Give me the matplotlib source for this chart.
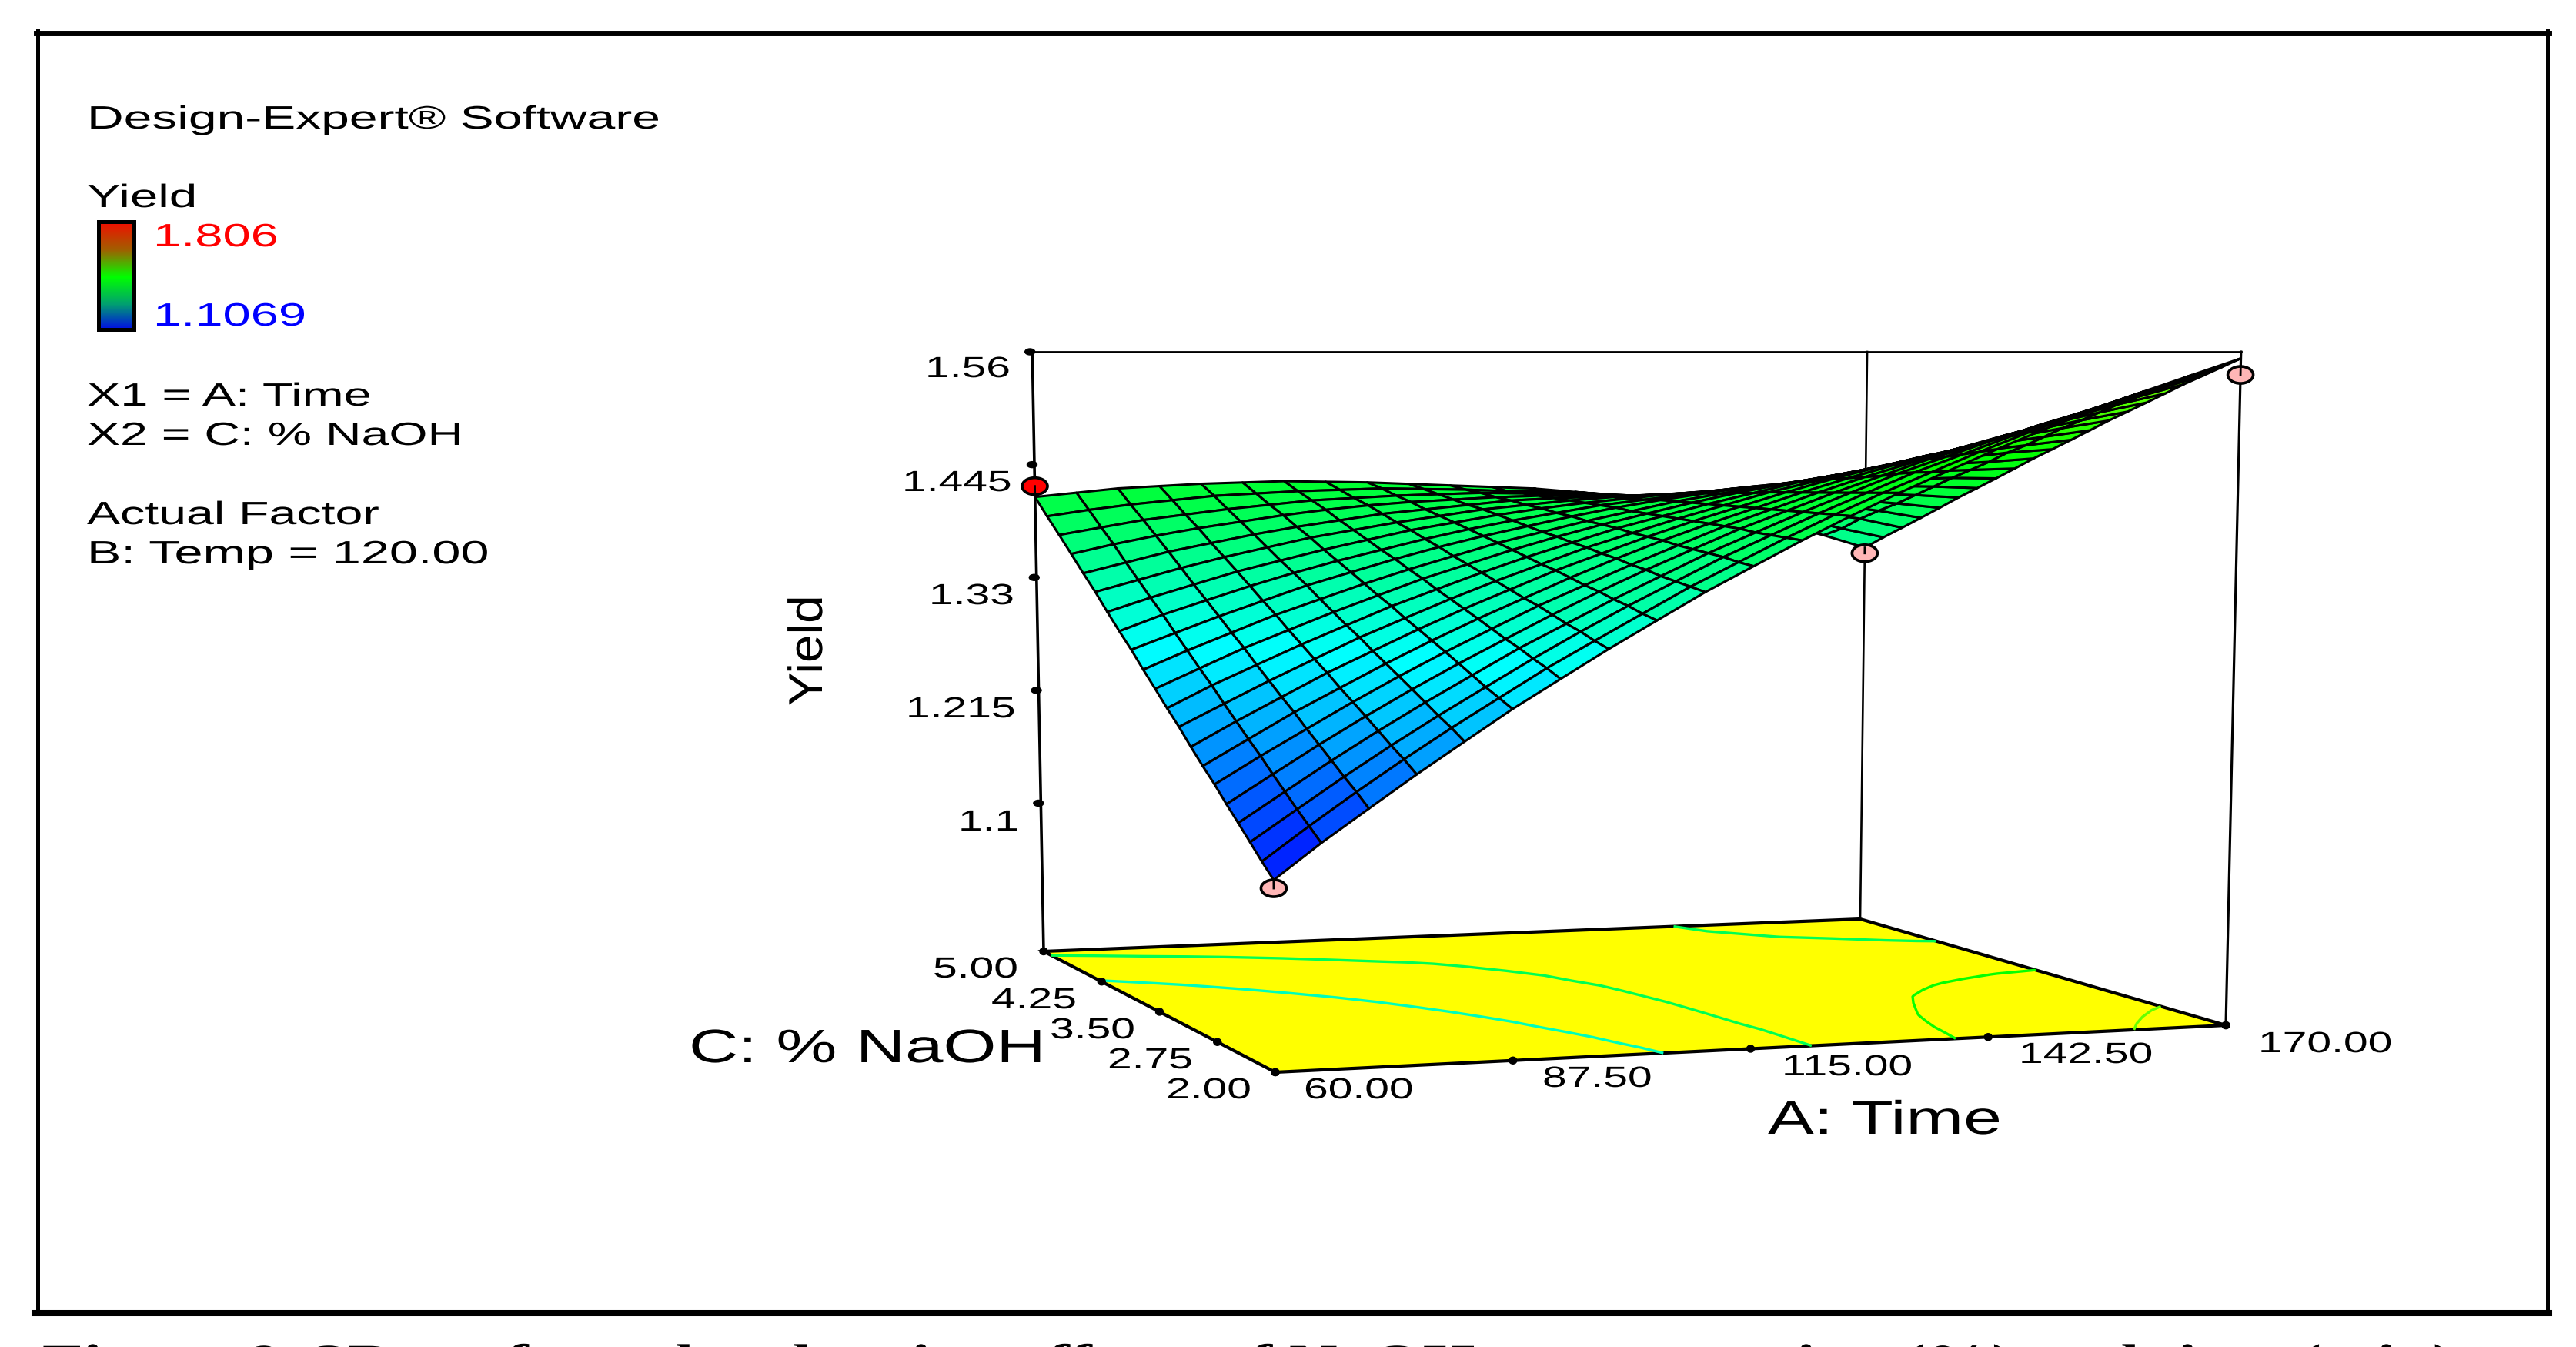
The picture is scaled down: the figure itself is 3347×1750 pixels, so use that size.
import numpy as np
import matplotlib
matplotlib.use("Agg")
import matplotlib.pyplot as plt
import matplotlib.patheffects as pe
from matplotlib.collections import PolyCollection
from matplotlib.colors import LinearSegmentedColormap, Normalize
from matplotlib.patches import Ellipse, Polygon, Rectangle
from matplotlib.transforms import Affine2D

# Axis ticks and labels
time_ticks = [60.00, 87.50, 115.00, 142.50, 170.00]
time_labels = ["60.00", "87.50", "115.00", "142.50", "170.00"]
naoh_ticks = [5.00, 4.25, 3.50, 2.75, 2.00]
naoh_labels = ["5.00", "4.25", "3.50", "2.75", "2.00"]
yield_ticks = [1.56, 1.445, 1.33, 1.215, 1.1]
yield_labels = ["1.56", "1.445", "1.33", "1.215", "1.1"]

# Surface, rows go from 2% to 5% NaOH, columns from 60 to 170 min
time_grid = np.linspace(60, 170, 21)
naoh_grid = np.linspace(2, 5, 21)
yield_surface = np.array([
    [1.112, 1.142, 1.170, 1.198, 1.225, 1.252, 1.277, 1.302, 1.326, 1.350, 1.372, 1.394, 1.415, 1.435, 1.454, 1.473, 1.491, 1.508, 1.524, 1.539, 1.554],
    [1.124, 1.153, 1.181, 1.208, 1.234, 1.259, 1.284, 1.307, 1.330, 1.353, 1.374, 1.395, 1.415, 1.434, 1.452, 1.470, 1.487, 1.503, 1.518, 1.532, 1.546],
    [1.137, 1.164, 1.191, 1.217, 1.242, 1.266, 1.290, 1.313, 1.335, 1.356, 1.377, 1.396, 1.415, 1.433, 1.451, 1.467, 1.483, 1.498, 1.512, 1.525, 1.538],
    [1.150, 1.176, 1.202, 1.227, 1.251, 1.274, 1.297, 1.318, 1.339, 1.359, 1.379, 1.397, 1.415, 1.432, 1.449, 1.464, 1.479, 1.493, 1.506, 1.518, 1.530],
    [1.163, 1.188, 1.213, 1.237, 1.260, 1.282, 1.303, 1.324, 1.344, 1.363, 1.381, 1.399, 1.415, 1.431, 1.446, 1.461, 1.474, 1.487, 1.499, 1.511, 1.521],
    [1.177, 1.201, 1.224, 1.247, 1.269, 1.290, 1.310, 1.330, 1.348, 1.366, 1.383, 1.400, 1.415, 1.430, 1.444, 1.457, 1.470, 1.482, 1.493, 1.503, 1.512],
    [1.190, 1.213, 1.236, 1.257, 1.278, 1.298, 1.317, 1.335, 1.353, 1.370, 1.386, 1.401, 1.415, 1.429, 1.442, 1.454, 1.465, 1.476, 1.486, 1.495, 1.503],
    [1.204, 1.226, 1.247, 1.268, 1.287, 1.306, 1.324, 1.341, 1.358, 1.373, 1.388, 1.402, 1.415, 1.428, 1.440, 1.451, 1.461, 1.470, 1.479, 1.487, 1.494],
    [1.219, 1.239, 1.259, 1.278, 1.297, 1.314, 1.331, 1.347, 1.362, 1.377, 1.390, 1.403, 1.415, 1.427, 1.437, 1.447, 1.456, 1.464, 1.472, 1.478, 1.484],
    [1.233, 1.253, 1.271, 1.289, 1.306, 1.323, 1.338, 1.353, 1.367, 1.380, 1.393, 1.404, 1.415, 1.425, 1.435, 1.443, 1.451, 1.458, 1.464, 1.469, 1.474],
    [1.248, 1.266, 1.284, 1.300, 1.316, 1.331, 1.346, 1.359, 1.372, 1.384, 1.395, 1.405, 1.415, 1.424, 1.432, 1.439, 1.446, 1.452, 1.456, 1.461, 1.464],
    [1.263, 1.280, 1.296, 1.312, 1.326, 1.340, 1.353, 1.365, 1.377, 1.387, 1.397, 1.406, 1.415, 1.422, 1.429, 1.435, 1.440, 1.445, 1.449, 1.451, 1.454],
    [1.279, 1.294, 1.309, 1.323, 1.337, 1.349, 1.361, 1.372, 1.382, 1.391, 1.400, 1.408, 1.415, 1.421, 1.427, 1.431, 1.435, 1.438, 1.441, 1.442, 1.443],
    [1.294, 1.309, 1.322, 1.335, 1.347, 1.358, 1.368, 1.378, 1.387, 1.395, 1.402, 1.409, 1.414, 1.419, 1.424, 1.427, 1.430, 1.431, 1.432, 1.433, 1.432],
    [1.310, 1.323, 1.335, 1.347, 1.357, 1.367, 1.376, 1.385, 1.392, 1.399, 1.405, 1.410, 1.414, 1.418, 1.421, 1.423, 1.424, 1.424, 1.424, 1.423, 1.421],
    [1.327, 1.338, 1.349, 1.359, 1.368, 1.377, 1.384, 1.391, 1.397, 1.403, 1.407, 1.411, 1.414, 1.416, 1.418, 1.418, 1.418, 1.417, 1.415, 1.413, 1.410],
    [1.343, 1.353, 1.363, 1.371, 1.379, 1.386, 1.392, 1.398, 1.402, 1.406, 1.410, 1.412, 1.413, 1.414, 1.414, 1.413, 1.412, 1.410, 1.407, 1.403, 1.398],
    [1.360, 1.369, 1.377, 1.384, 1.390, 1.396, 1.401, 1.405, 1.408, 1.410, 1.412, 1.413, 1.413, 1.412, 1.411, 1.409, 1.406, 1.403, 1.400, 1.394, 1.386],
    [1.377, 1.384, 1.391, 1.396, 1.401, 1.405, 1.409, 1.411, 1.413, 1.414, 1.415, 1.414, 1.413, 1.411, 1.409, 1.407, 1.404, 1.398, 1.391, 1.384, 1.374],
    [1.394, 1.400, 1.405, 1.409, 1.413, 1.415, 1.417, 1.418, 1.419, 1.418, 1.417, 1.415, 1.414, 1.412, 1.409, 1.405, 1.399, 1.392, 1.383, 1.372, 1.362],
    [1.412, 1.416, 1.420, 1.422, 1.424, 1.425, 1.426, 1.425, 1.424, 1.422, 1.420, 1.418, 1.416, 1.412, 1.408, 1.403, 1.396, 1.386, 1.375, 1.363, 1.349],
])

# Design points (time, NaOH, yield) and floor contour levels
point_time = [60, 60, 170, 170]
point_naoh = [5, 2, 5, 2]
point_yield = [1.423, 1.105, 1.343, 1.539]
point_colors = ["#ff0000", "#ffb6b6", "#ffb6b6", "#ffb6b6"]
contour_levels = [1.33, 1.40, 1.46, 1.525]

YIELD_MIN = 1.1069
YIELD_MAX = 1.806
FLOOR_Z = 0.949
TOP_Z = 1.56

# Where the box corners sit in the picture (pixels): 60/2, 170/2, 170/5, 60/5
floor_corners = np.array([(1657, 1393), (2892, 1332), (2417, 1194), (1356, 1236)], float)
TOP_Y = 457
VANISH_X = 2014
LEAN = 0.0225

surface_cmap = LinearSegmentedColormap.from_list(
    "de", ["#0000ff", "#00ffff", "#00ff00", "#ffff00", "#ff0000"])
legend_cmap = LinearSegmentedColormap.from_list(
    "de_legend", ["#0000f0", "#00a070", "#00ff00", "#a06000", "#f01000"])
norm = Normalize(YIELD_MIN, YIELD_MAX)


# Floor ticks are evenly spaced along each edge, so map the corners bilinearly
def to_floor(t, c):
    u = (np.asarray(t, float) - 60) / 110
    v = (np.asarray(c, float) - 2) / 3
    w = [(1 - u) * (1 - v), u * (1 - v), u * v, (1 - u) * v]
    x = sum(w[k] * floor_corners[k, 0] for k in range(4))
    y = sum(w[k] * floor_corners[k, 1] for k in range(4))
    return x, y


def project(t, c, z):
    xf, yf = to_floor(t, c)
    s = (np.asarray(z, float) - FLOOR_Z) / (TOP_Z - FLOOR_Z)
    return xf + s * (xf - VANISH_X) * LEAN, yf + s * (TOP_Y - yf)


# Design-Expert's screen fonts are stretched sideways, the text stays real text
class Stretch(pe.AbstractPathEffect):
    def __init__(self, sx):
        super().__init__()
        self.sx = sx

    def draw_path(self, renderer, gc, tpath, affine, rgbFace=None):
        renderer.draw_path(gc, tpath, Affine2D().scale(self.sx, 1) + affine, rgbFace)


def label(x, y, s, em, sx, color="black", family="Liberation Sans", **kw):
    t = ax.text(x, y, s, fontsize=em * 0.72, color=color, family=family,
                ha="left", va="baseline", rotation_mode="anchor", **kw)
    t.set_path_effects([Stretch(sx)])
    return t


fig = plt.figure(figsize=(33.47, 17.5), dpi=100)
ax = fig.add_axes([0, 0, 1, 1])
ax.axis("off")

# Outer frame
ax.plot([49, 49], [40, 1706], color="black", lw=3.6, zorder=1)
ax.plot([3310, 3310], [40, 1706], color="black", lw=3.6, zorder=1)
ax.plot([47, 3312], [42.5, 42.5], color="black", lw=5, zorder=1)
ax.plot([45, 3312], [1706, 1706], color="black", lw=5.8, zorder=1)

# Left hand legend text
LEG = 42
label(113, 167, "Design-Expert® Software", LEG, 1.57)
label(113, 269, "Yield", LEG, 1.56)
label(199, 320, "1.806", LEG, 1.55, color="#ff0000")
label(199, 423, "1.1069", LEG, 1.55, color="#0000ff")
label(113, 527, "X1 = A: Time", LEG, 1.545)
label(113, 578, "X2 = C: % NaOH", LEG, 1.535)
label(113, 681, "Actual Factor", LEG, 1.535)
label(113, 732, "B: Temp = 120.00", LEG, 1.585)

gradient = np.linspace(1, 0, 200).reshape(-1, 1)
ax.imshow(gradient, extent=[130, 177, 431, 289], aspect="auto", cmap=legend_cmap, zorder=2)
ax.add_patch(Rectangle((128, 288), 46, 140, fill=False, ec="black", lw=3.6, zorder=3))

# Box behind the surface
corner_t = [60, 170, 170]
corner_c = [5, 5, 2]
for t, c, lw in zip(corner_t, corner_c, [2.6, 1.9, 2.3]):
    xs, ys = project([t, t], [c, c], [FLOOR_Z, TOP_Z])
    ax.plot(xs, ys, color="black", lw=lw, zorder=2)
xs, ys = project([60, 170], [5, 2], [TOP_Z, TOP_Z])
ax.plot(xs, ys, color="black", lw=2.0, zorder=2)

# Yellow floor with its contours
fx, fy = to_floor([60, 170, 170, 60], [2, 2, 5, 5])
ax.add_patch(Polygon(np.column_stack([fx, fy]), closed=True, fc="#ffff00", ec="black",
                     lw=3.0, zorder=3))
T, C = np.meshgrid(time_grid, naoh_grid)
gx, gy = to_floor(T, C)
ax.contour(gx, gy, yield_surface, levels=contour_levels,
           colors=[surface_cmap(norm(v)) for v in contour_levels], linewidths=2.4, zorder=4)

# Mesh, far cells first so the near ones paint over them
sx, sy = project(T, C, yield_surface)
cells = []
values = []
depth = []
for i in range(len(naoh_grid) - 1):
    for j in range(len(time_grid) - 1):
        idx = [(i, j), (i, j + 1), (i + 1, j + 1), (i + 1, j)]
        cells.append([(sx[a], sy[a]) for a in idx])
        values.append(np.mean([yield_surface[a] for a in idx]))
        depth.append(np.mean([gy[a] for a in idx]))
order = np.argsort(depth)
mesh = PolyCollection([cells[k] for k in order],
                      facecolors=surface_cmap(norm(np.array(values)[order])),
                      edgecolors="black", linewidths=2.2, zorder=5)
ax.add_collection(mesh)

# Design points and their stems down to the surface
surface_at = {(60, 5): 1.412, (60, 2): 1.112, (170, 5): 1.349, (170, 2): 1.554}
for t, c, z, col in zip(point_time, point_naoh, point_yield, point_colors):
    px, py = project(t, c, z)
    ax.add_patch(Ellipse((px, py), 33, 22, fc=col, ec="black", lw=2.6, zorder=7))
    qx, qy = project(t, c, surface_at[(t, c)])
    ax.plot([px, qx], [py, qy], color="black", lw=2.0, zorder=8)

# Tick dots
for z in yield_ticks:
    px, py = project(60, 5, z)
    ax.add_patch(Ellipse((px - 3, py), 13, 8, fc="black", ec="black", zorder=6))
for t in time_ticks:
    px, py = to_floor(t, 2)
    ax.add_patch(Ellipse((px, py), 10, 9, fc="black", ec="black", zorder=6))
for c in naoh_ticks:
    px, py = to_floor(60, c)
    ax.add_patch(Ellipse((px, py), 10, 9, fc="black", ec="black", zorder=6))
px, py = to_floor(170, 2)
ax.add_patch(Ellipse((px, py), 10, 9, fc="black", ec="black", zorder=6))

# Tick labels
TICK = 38
for s, x, y in zip(yield_labels, [1202, 1172, 1207, 1177, 1245], [490, 638, 785, 932, 1079]):
    label(x, y, s, TICK, 1.5)
for s, x, y in zip(naoh_labels, [1212, 1288, 1364, 1439, 1515], [1270, 1310, 1349, 1388, 1427]):
    label(x, y, s, TICK, 1.5)
for s, x, y in zip(time_labels, [1694, 2004, 2315, 2623, 2934], [1427, 1412, 1397, 1381, 1367]):
    label(x, y, s, TICK, 1.5)

# Axis titles
label(895, 1380, "C: % NaOH", 61, 1.455)
label(2297, 1473, "A: Time", 61, 1.47)
label(1068, 917, "Yield", 62, 1.06, rotation=90)

# Caption, cut off by the bottom of the picture
label(55, 1788, "Figure 9. 3D surface plot showing effects of NaOH concentration (%) and time (min)",
      60, 1.45, family="Liberation Serif", fontweight="bold")

ax.set_xlim(0, 3347)
ax.set_ylim(1750, 0)
fig.savefig("out.png", dpi=100)
